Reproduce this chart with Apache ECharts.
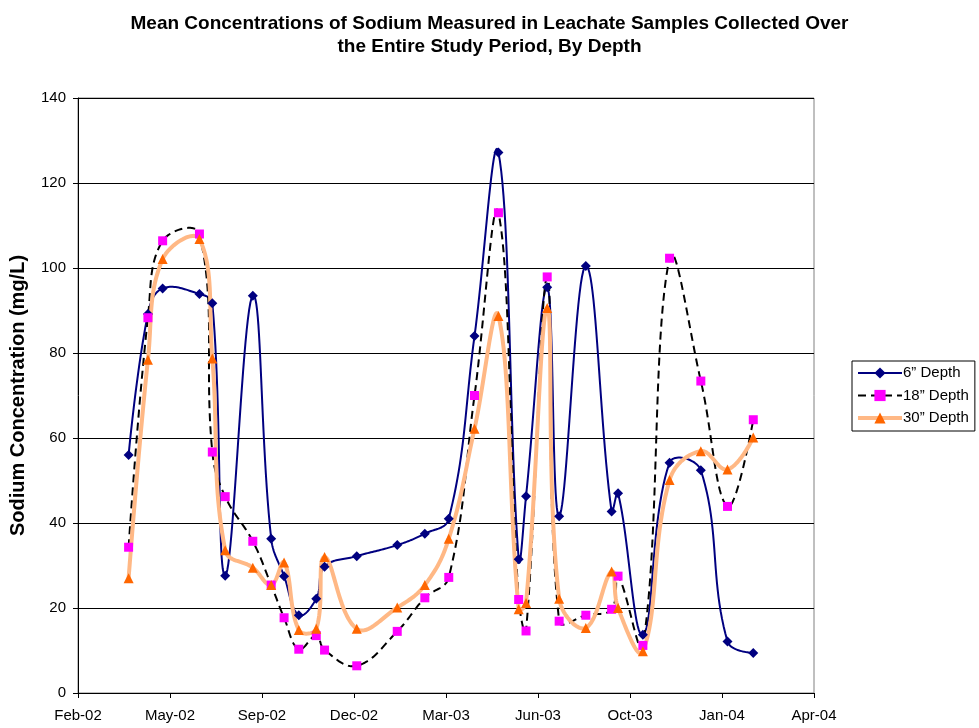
<!DOCTYPE html>
<html>
<head>
<meta charset="utf-8">
<script src="https://cdn.jsdelivr.net/npm/echarts@6/dist/echarts.min.js"></script>
<style>
  html, body { margin: 0; padding: 0; background: #fff; }
  #chart { width: 979px; height: 728px; }
</style>
</head>
<body>
<div id="chart"></div>
<script>
// ---- Data ----
const sampleDates = [
  '2002-04-09','2002-04-30','2002-05-16','2002-06-25','2002-07-09','2002-07-23',
  '2002-08-22','2002-09-11','2002-09-25','2002-10-11','2002-10-30','2002-11-08',
  '2002-12-13','2003-01-26','2003-02-25','2003-03-23','2003-04-20','2003-05-16',
  '2003-06-07','2003-06-15','2003-07-08','2003-07-21','2003-08-19','2003-09-16',
  '2003-09-23','2003-10-20','2003-11-18','2003-12-22','2004-01-20','2004-02-17'
];
const depth6 = [
  56.0, 89.2, 95.2, 93.9, 91.7, 27.6,
  93.5, 36.3, 27.5, 18.3, 22.2, 29.7,
  32.2, 34.8, 37.5, 41.0, 84.0, 127.2,
  31.5, 46.3, 95.5, 41.6, 100.5, 42.7,
  47.0, 13.7, 54.2, 52.4, 12.1, 9.4
];
const depth18 = [
  34.3, 88.3, 106.4, 108.0, 56.7, 46.2,
  35.7, 25.4, 17.7, 10.3, 13.5, 10.1,
  6.4, 14.5, 22.4, 27.2, 70.0, 113.0,
  22.0, 14.6, 97.9, 16.9, 18.3, 19.7,
  27.5, 11.2, 102.3, 73.4, 43.9, 64.3
];
const depth30 = [
  27.0, 78.4, 102.1, 106.8, 78.7, 33.6,
  29.5, 25.4, 30.7, 14.8, 15.1, 32.0,
  15.1, 20.1, 25.4, 36.3, 62.2, 88.7,
  19.7, 21.2, 90.6, 22.2, 15.3, 28.6,
  20.0, 9.8, 50.1, 56.9, 52.6, 60.1
];
const seriesNames = ['6\u201D Depth', '18\u201D Depth', '30\u201D Depth'];
const titleLines = ['Mean Concentrations of Sodium Measured in Leachate Samples Collected Over',
                    'the Entire Study Period, By Depth'];
const yAxisTitle = 'Sodium Concentration (mg/L)';
// x axis: Excel-style date serials, Feb-02 .. Apr-04 every 100 days
const xMin = 37300, xMax = 38100, xStep = 100;
const yMin = 0, yMax = 140, yStep = 20;

// ---- helpers ----
const MONTHS = ['Jan','Feb','Mar','Apr','May','Jun','Jul','Aug','Sep','Oct','Nov','Dec'];
function toSerial(iso) {
  const p = iso.split('-').map(Number);
  return Date.UTC(p[0], p[1] - 1, p[2]) / 86400000 + 25569;
}
function serialLabel(s) {
  const d = new Date((s - 25569) * 86400000);
  return MONTHS[d.getUTCMonth()] + '-' + String(d.getUTCFullYear() % 100).padStart(2, '0');
}
const xs = sampleDates.map(toSerial);
const pairs = arr => arr.map((v, i) => [xs[i], v]);

// Excel-like smoothed curve in pixel space: tangent parallel to neighbours,
// control distances weighted by adjacent segment lengths.
function smoothPoints(pts) {
  const S = 0.4, N = 24, n = pts.length;
  const dist = (a, b) => Math.hypot(b[0] - a[0], b[1] - a[1]);
  const cin = [], cout = [];
  for (let i = 0; i < n; i++) {
    if (i === 0 || i === n - 1) { cin.push(pts[i]); cout.push(pts[i]); continue; }
    const p0 = pts[i - 1], p1 = pts[i], p2 = pts[i + 1];
    const vx = p2[0] - p0[0], vy = p2[1] - p0[1];
    const d0 = dist(p0, p1), d1 = dist(p1, p2), tot = d0 + d1 || 1;
    cin.push([p1[0] - vx * S * d0 / tot, p1[1] - vy * S * d0 / tot]);
    cout.push([p1[0] + vx * S * d1 / tot, p1[1] + vy * S * d1 / tot]);
  }
  const out = [pts[0]];
  for (let i = 0; i < n - 1; i++) {
    const p1 = pts[i], p2 = pts[i + 1], c1 = cout[i], c2 = cin[i + 1];
    for (let k = 1; k <= N; k++) {
      const t = k / N, u = 1 - t;
      out.push([
        u*u*u*p1[0] + 3*u*u*t*c1[0] + 3*u*t*t*c2[0] + t*t*t*p2[0],
        u*u*u*p1[1] + 3*u*u*t*c1[1] + 3*u*t*t*c2[1] + t*t*t*p2[1]
      ]);
    }
  }
  return out;
}

const styles = [
  { line: { color: '#000080', width: 2, type: 'solid' },  sym: 'diamond',  size: 10, fill: '#000080' },
  { line: { color: '#000000', width: 2, type: [8, 5] },   sym: 'rect',     size: 9,  fill: '#FF00FF' },
  { line: { color: '#FFB885', width: 4, type: 'solid' },  sym: 'triangle', size: 10, fill: '#FF6600' }
];
const valueSets = [depth6, depth18, depth30];

const curveSeries = valueSets.map((vals, si) => ({
  type: 'custom',
  name: 'curve' + si,
  data: pairs(vals),
  silent: true,
  z: 2,
  renderItem: (params, api) => {
    if (params.dataIndex !== 0) return null;
    const pts = vals.map((v, i) => api.coord([xs[i], v]));
    const st = styles[si].line;
    return {
      type: 'polyline',
      shape: { points: smoothPoints(pts) },
      style: {
        fill: null, stroke: st.color, lineWidth: st.width,
        lineDash: Array.isArray(st.type) ? st.type : null, lineJoin: 'round'
      }
    };
  }
}));

const markerSeries = valueSets.map((vals, si) => ({
  type: 'line',
  name: seriesNames[si],
  data: pairs(vals),
  symbol: styles[si].sym,
  symbolSize: styles[si].size,
  showSymbol: true,
  lineStyle: { color: styles[si].line.color, width: styles[si].line.width, type: styles[si].line.type, opacity: 0 },
  itemStyle: { color: styles[si].fill },
  z: 3 + si
}));

const FONT = '"Liberation Sans", Arial, sans-serif';
const chart = echarts.init(document.getElementById('chart'), null, { renderer: 'canvas' });
chart.setOption({
  backgroundColor: '#ffffff',
  animation: false,
  title: {
    text: titleLines.join('\n'),
    left: 'center',
    top: 7,
    textStyle: { fontFamily: FONT, fontSize: 19, fontWeight: 'bold', color: '#000', lineHeight: 23 }
  },
  grid: { left: 78, right: 165, top: 98, bottom: 35, show: true, borderColor: '#808080', borderWidth: 1 },
  legend: {
    orient: 'vertical',
    left: 852,
    top: 361,
    padding: [4, 6, 5, 4],
    itemGap: 6.5,
    itemWidth: 44,
    itemHeight: 14,
    borderColor: '#000',
    borderWidth: 1,
    borderRadius: 0,
    backgroundColor: '#fff',
    textStyle: { fontFamily: FONT, fontSize: 15, color: '#000', lineHeight: 16, padding: [0, 0, 0, -4] },
    data: seriesNames.map((n, si) => ({
      name: n,
      lineStyle: { color: styles[si].line.color, width: styles[si].line.width, type: styles[si].line.type, opacity: 1 }
    }))
  },
  xAxis: {
    type: 'value',
    min: xMin, max: xMax, interval: xStep,
    axisLine: { onZero: false, lineStyle: { color: '#000', width: 1 } },
    axisTick: { show: true, length: 5, lineStyle: { color: '#000' } },
    axisLabel: { fontFamily: FONT, fontSize: 15, color: '#000', margin: 15, formatter: v => serialLabel(v) },
    splitLine: { show: false }
  },
  yAxis: {
    type: 'value',
    min: yMin, max: yMax, interval: yStep,
    name: yAxisTitle,
    nameLocation: 'middle',
    nameGap: 50,
    nameTextStyle: { fontFamily: FONT, fontSize: 20, fontWeight: 'bold', color: '#000' },
    axisLine: { show: true, lineStyle: { color: '#000', width: 1 } },
    axisTick: { show: true, length: 5, lineStyle: { color: '#000' } },
    axisLabel: { fontFamily: FONT, fontSize: 15, color: '#000', margin: 12 },
    splitLine: { show: true, lineStyle: { color: '#000', width: 1 } }
  },
  series: curveSeries.concat(markerSeries)
});
</script>
</body>
</html>
